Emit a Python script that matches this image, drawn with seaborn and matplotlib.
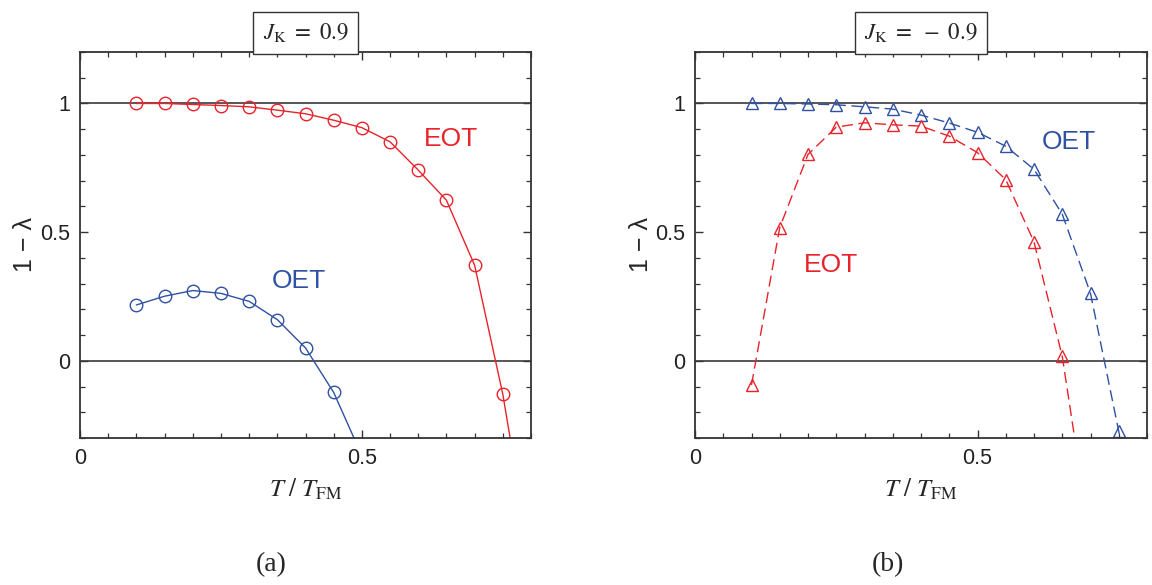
import numpy as np
import pandas as pd
import matplotlib
matplotlib.use("Agg")
import matplotlib.pyplot as plt
from matplotlib.ticker import FixedLocator, MultipleLocator, FixedFormatter
import seaborn as sns

# ---------------- data ----------------
# panel (a): J_K = 0.9
T_a_eot = [0.10, 0.15, 0.20, 0.25, 0.30, 0.35, 0.40, 0.45, 0.50, 0.55, 0.60, 0.65, 0.70, 0.75]
y_a_eot = [1.000, 1.000, 0.996, 0.992, 0.987, 0.974, 0.960, 0.935, 0.906, 0.851, 0.741, 0.624, 0.371, -0.130]
T_a_oet = [0.10, 0.15, 0.20, 0.25, 0.30, 0.35, 0.40, 0.45]
y_a_oet = [0.217, 0.251, 0.273, 0.262, 0.231, 0.160, 0.050, -0.123]
# where the fitted curves leave the frame (bottom edge)
end_a_eot = (0.763, -0.30)
end_a_oet = (0.486, -0.30)

# panel (b): J_K = -0.9
T_b_oet = [0.10, 0.15, 0.20, 0.25, 0.30, 0.35, 0.40, 0.45, 0.50, 0.55, 0.60, 0.65, 0.70, 0.75]
y_b_oet = [1.000, 1.000, 0.998, 0.995, 0.987, 0.978, 0.955, 0.924, 0.888, 0.834, 0.744, 0.570, 0.262, -0.274]
T_b_eot = [0.10, 0.15, 0.20, 0.25, 0.30, 0.35, 0.40, 0.45, 0.50, 0.55, 0.60, 0.65]
y_b_eot = [-0.094, 0.518, 0.802, 0.908, 0.925, 0.917, 0.912, 0.873, 0.809, 0.704, 0.462, 0.017]
end_b_eot = (0.672, -0.30)
end_b_oet = (0.752, -0.30)

titles = [r"$J_{\mathrm{K}}\ =\ 0.9$", r"$J_{\mathrm{K}}\ =\ -\ 0.9$"]
panel_labels = ["(a)", "(b)"]
xticks = [0, 0.5]
xticklabels = ["0", "0.5"]
yticks = [0, 0.5, 1]
yticklabels = ["0", "0.5", "1"]

RED = "#e8232b"
BLUE = "#2f51a3"

# ---------------- style ----------------
sns.set_theme(style="ticks")
plt.rcParams["font.family"] = ["Liberation Sans", "DejaVu Sans"]
plt.rcParams["mathtext.fontset"] = "stix"

fig = plt.figure(figsize=(11.52, 5.85), dpi=100)
ax_a = fig.add_axes([80 / 1152, 1 - 438 / 585, 451 / 1152, 386 / 585])
ax_b = fig.add_axes([695 / 1152, 1 - 438 / 585, 452 / 1152, 386 / 585])


def draw_series(ax, T, y, end, color, marker, dashed):
    line_df = pd.DataFrame({"T": list(T) + [end[0]], "y": list(y) + [end[1]]})
    sns.lineplot(data=line_df, x="T", y="y", ax=ax, color=color, lw=1.0,
                 estimator=None, sort=False)
    if dashed:
        ax.lines[-1].set_dashes((8, 4))
    pt_df = pd.DataFrame({"T": T, "y": y})
    sns.lineplot(data=pt_df, x="T", y="y", ax=ax, estimator=None, sort=False,
                 linestyle="none", marker=marker, markersize=9,
                 markerfacecolor="none", markeredgecolor=color, markeredgewidth=1.0,
                 color=color)


for ax in (ax_a, ax_b):
    ax.axhline(0, color="#3a3a3a", lw=1.2, zorder=1)
    ax.axhline(1, color="#3a3a3a", lw=1.2, zorder=1)

draw_series(ax_a, T_a_eot, y_a_eot, end_a_eot, RED, "o", False)
draw_series(ax_a, T_a_oet, y_a_oet, end_a_oet, BLUE, "o", False)
draw_series(ax_b, T_b_oet, y_b_oet, end_b_oet, BLUE, "^", True)
draw_series(ax_b, T_b_eot, y_b_eot, end_b_eot, RED, "^", True)

ax_a.text(0.658, 0.86, "EOT", color=RED, fontsize=19, ha="center", va="center")
ax_a.text(0.388, 0.311, "OET", color=BLUE, fontsize=19, ha="center", va="center")
ax_b.text(0.662, 0.849, "OET", color=BLUE, fontsize=19, ha="center", va="center")
ax_b.text(0.24, 0.371, "EOT", color=RED, fontsize=19, ha="center", va="center")

for ax, title, lab in zip((ax_a, ax_b), titles, panel_labels):
    ax.set_xlim(0, 0.8)
    ax.set_ylim(-0.3, 1.2)
    ax.xaxis.set_major_locator(FixedLocator(xticks))
    ax.xaxis.set_major_formatter(FixedFormatter(xticklabels))
    ax.xaxis.set_minor_locator(MultipleLocator(0.05))
    ax.yaxis.set_major_locator(FixedLocator(yticks))
    ax.yaxis.set_major_formatter(FixedFormatter(yticklabels))
    ax.yaxis.set_minor_locator(MultipleLocator(0.1))
    ax.tick_params(which="both", direction="in", top=True, right=True,
                   color="#333333", labelsize=15.5, labelcolor="#222222")
    ax.tick_params(which="major", length=6, width=1.0, pad=7)
    ax.tick_params(which="minor", length=3.5, width=0.9)
    for s in ax.spines.values():
        s.set_color("#333333")
        s.set_linewidth(1.3)
        s.set_visible(True)
    ax.set_xlabel(r"$T\ /\ T_{\mathrm{FM}}$", fontsize=18, labelpad=6)
    ax.set_ylabel("1 − λ", fontsize=18, labelpad=2)
    ax.set_title(title, fontsize=16.5, pad=9,
                 bbox=dict(boxstyle="square,pad=0.4", fc="white", ec="#333333", lw=1.0))

fig.text(271 / 1152, 1 - 565 / 585, panel_labels[0], fontsize=20, ha="center", va="center",
         family=["Liberation Serif", "DejaVu Serif"])
fig.text(888 / 1152, 1 - 565 / 585, panel_labels[1], fontsize=20, ha="center", va="center",
         family=["Liberation Serif", "DejaVu Serif"])

fig.savefig("out.png", dpi=100)
